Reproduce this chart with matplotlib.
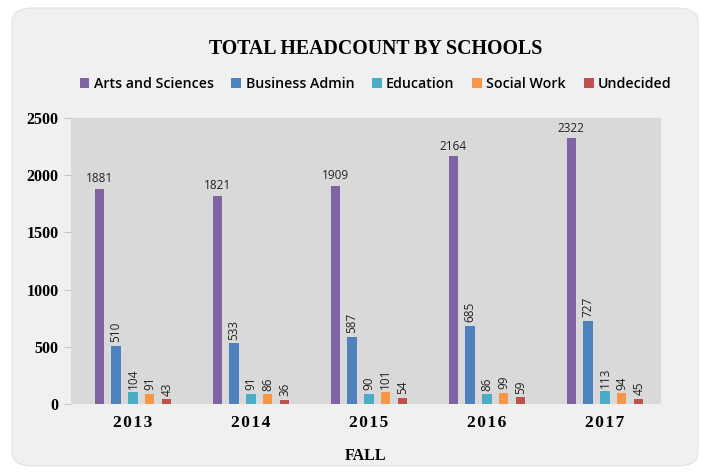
import numpy as np
import matplotlib
matplotlib.use("Agg")
import matplotlib.pyplot as plt
from matplotlib.patches import FancyBboxPatch

years = ["2013", "2014", "2015", "2016", "2017"]
schools = ["Arts and Sciences", "Business Admin", "Education", "Social Work", "Undecided"]
arts = [1881, 1821, 1909, 2164, 2322]
business = [510, 533, 587, 685, 727]
education = [104, 91, 90, 86, 113]
social = [91, 86, 101, 99, 94]
undecided = [43, 36, 54, 59, 45]
colors = ["#8064a2", "#4f81bd", "#4bacc6", "#f79646", "#c0504d"]


def main():
    series = [arts, business, education, social, undecided]
    fig = plt.figure(figsize=(7.02, 4.72), dpi=100)
    fig.patch.set_facecolor("white")
    # rounded chart panel, behind everything
    panel = FancyBboxPatch((12 / 702, 6 / 472), 686 / 702, 458 / 472,
                           boxstyle="round,pad=0,rounding_size=0.03",
                           transform=fig.transFigure, facecolor="#f0f0f0",
                           edgecolor="#e2e2e2", linewidth=0.8, zorder=-5)
    fig.patches.append(panel)

    ax = fig.add_axes([71 / 702, 68 / 472, 590 / 702, 286 / 472])
    ax.set_zorder(2)
    ax.set_facecolor("#d9d9d9")
    x = np.arange(len(years))
    step = 0.143
    width = 0.078
    shift = 0.025
    for i, (name, vals) in enumerate(zip(schools, series)):
        pos = x + (i - 2) * step + shift
        ax.bar(pos, vals, width, color=colors[i], label=name, zorder=2)
        for p, v in zip(pos, vals):
            if i == 0:
                ax.text(p, v + 30, str(v), ha="center", va="bottom",
                        fontsize=8.5, color="#222222", family="Open Sans")
            else:
                ax.text(p, v + 30, str(v), ha="center", va="bottom",
                        rotation=90, fontsize=8.5, color="#222222",
                        family="Open Sans")

    ax.set_xlim(-0.5, 4.5)
    ax.set_ylim(0, 2500)
    ax.set_yticks(range(0, 2501, 500))
    ax.set_yticklabels([str(v) for v in range(0, 2501, 500)],
                       family="Liberation Serif", fontweight="bold",
                       fontsize=11.5)
    ax.set_xticks(x + shift)
    ax.set_xticklabels(["\u200a".join(y) for y in years],
                       family="Liberation Serif", fontweight="bold",
                       fontsize=12.5)
    ax.tick_params(axis="x", length=0, pad=8)
    ax.tick_params(axis="y", length=5, color="#c8c8c8", pad=4)
    for s in ax.spines.values():
        s.set_visible(False)
    ax.set_xlabel("FALL", family="Liberation Serif", fontweight="bold",
                  fontsize=11.5, labelpad=12)

    fig.text(0.535, 0.897, "TOTAL HEADCOUNT BY SCHOOLS", ha="center",
             va="center", family="Liberation Serif", fontweight="bold",
             fontsize=14.3)
    fig.legend(loc="center", bbox_to_anchor=(0.535, 0.822), ncol=5,
               frameon=False, handlelength=0.7, handleheight=0.7,
               handletextpad=0.3, columnspacing=1.25,
               prop={"family": "Open Sans", "size": 10.2,
                     "weight": "semibold"})

    fig.savefig("out.png", dpi=100, facecolor="white")


if __name__ == "__main__":
    main()
